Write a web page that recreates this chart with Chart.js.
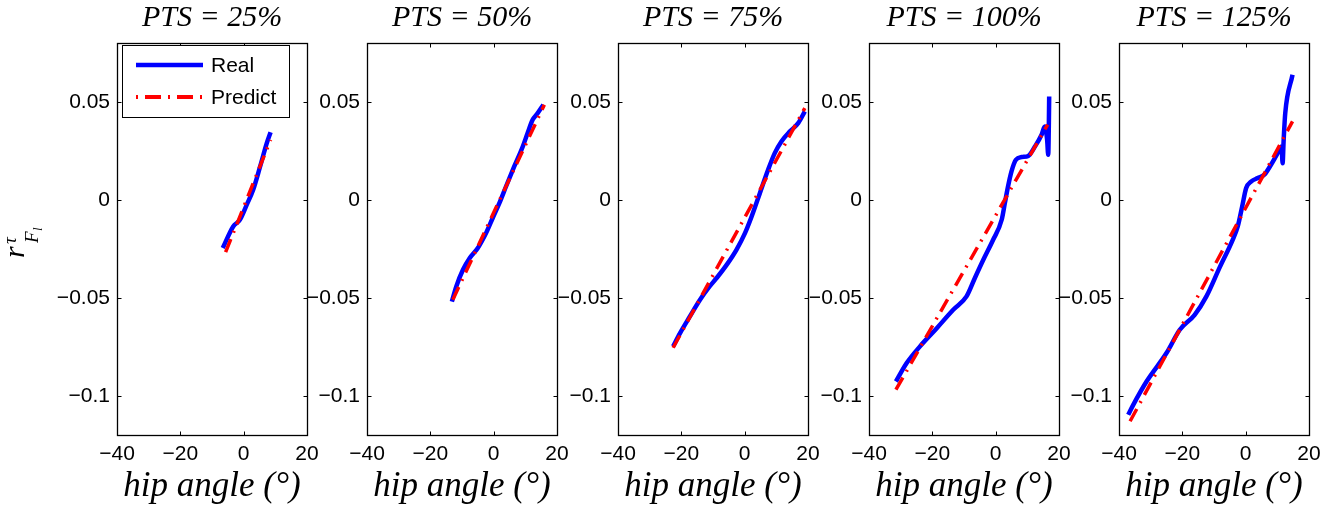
<!DOCTYPE html>
<html>
<head>
<meta charset="utf-8">
<script src="https://cdn.jsdelivr.net/npm/chart.js@4.4.1/dist/chart.umd.min.js"></script>
<style>
  html, body { margin: 0; padding: 0; background: #ffffff; }
  #wrap { position: relative; width: 1333px; height: 508px; overflow: hidden; }
  #wrap canvas { position: absolute; left: 0; top: 0; }
</style>
</head>
<body>
<div id="wrap">
  <canvas id="c0" width="1333" height="508"></canvas>
  <canvas id="c1" width="1333" height="508"></canvas>
  <canvas id="c2" width="1333" height="508"></canvas>
  <canvas id="c3" width="1333" height="508"></canvas>
  <canvas id="c4" width="1333" height="508"></canvas>
</div>
<script>
// Panel titles (PTS level) and shared axis ticks
const ptsLevels = ['25%', '50%', '75%', '100%', '125%'];
const xTicks = [-40, -20, 0, 20];
const yTicks = [-0.1, -0.05, 0, 0.05];

// Measured torque ratio vs hip angle, [hip angle (deg), value]
const real25 = [[-6.6, -0.0246], [-3.3, -0.0136], [-1.2, -0.0102], [0.95, -0.0026], [3.0, 0.0051], [5.2, 0.0170], [7.3, 0.0289], [8.5, 0.0345]];
const real50 = [[-13.2, -0.0519], [-11.8, -0.0442], [-9.7, -0.0357], [-7.6, -0.0298], [-5.0, -0.0246], [-2.4, -0.0170], [-0.3, -0.0093], [1.8, -0.0017], [3.9, 0.0068], [6.5, 0.0170], [9.2, 0.0272], [10.7, 0.0340], [12.3, 0.0408], [13.9, 0.0442], [15.7, 0.0485]];
const real75 = [[-22.6, -0.0748], [-20.4, -0.0680], [-17.3, -0.0595], [-14.1, -0.0510], [-11.5, -0.0451], [-8.9, -0.0400], [-5.7, -0.0332], [-2.6, -0.0255], [0.1, -0.0170], [2.2, -0.0085], [4.8, 0.0034], [7.4, 0.0153], [9.5, 0.0238], [11.6, 0.0298], [14.3, 0.0349], [16.9, 0.0391], [19.0, 0.0451]];
const real100 = [[-31.5, -0.0927], [-28.1, -0.0833], [-23.9, -0.0748], [-18.6, -0.0655], [-13.4, -0.0561], [-9.2, -0.0493], [-6.6, -0.0400], [-3.9, -0.0306], [-0.8, -0.0204], [1.9, -0.0102], [2.9, -0.0017], [3.9, 0.0068], [5.0, 0.0145], [6.4, 0.0204], [8.2, 0.0218], [10.3, 0.0224], [12.4, 0.0272], [14.5, 0.0332], [15.5, 0.0374], [16.25, 0.0306], [16.6, 0.0230], [16.8, 0.0393], [16.9, 0.0527]];
const real125 = [[-37.1, -0.1097], [-35.5, -0.1046], [-31.3, -0.0927], [-25.0, -0.0782], [-20.8, -0.0663], [-16.1, -0.0587], [-12.4, -0.0493], [-8.2, -0.0345], [-4.1, -0.0204], [-2.5, -0.0136], [-1.1, -0.0034], [0.16, 0.0060], [1.7, 0.0093], [3.8, 0.0111], [5.9, 0.0128], [8.0, 0.0179], [10.1, 0.0238], [11.35, 0.0272], [11.66, 0.0187], [12.0, 0.0306], [12.5, 0.0442], [14.8, 0.0638]];

// Model prediction (straight-line fit), [hip angle (deg), value]
const pred25 = [[-5.7, -0.0267], [8.5, 0.0306]];
const pred50 = [[-12.9, -0.0510], [16.0, 0.0485]];
const pred75 = [[-22.6, -0.0755], [19.0, 0.0468]];
const pred100 = [[-31.5, -0.0969], [16.4, 0.0383]];
const pred125 = [[-36.5, -0.1130], [14.8, 0.0400]];

const realSeries = [real25, real50, real75, real100, real125];
const predSeries = [pred25, pred50, pred75, pred100, pred125];

// Plot-area placement of each panel
const panelLeft = [117, 367, 618, 869, 1119];
const panelWidth = 190;
const yAxisWidth = 65;

const BLUE = '#0000ff';
const RED = '#ff0000';
const PRED_DASH = [14, 7, 2, 7];

const fmtTick = v => (v === 0 ? '0' : String(v).replace('-', '\u2212'));
const toPts = arr => arr.map(([x, y]) => ({ x, y }));

// Box around the axes with inward tick marks on all four sides
const framePlugin = {
  id: 'frame',
  afterDraw(chart) {
    const { ctx, chartArea: a, scales } = chart;
    ctx.save();
    ctx.strokeStyle = '#000';
    ctx.lineWidth = 1;
    const L = Math.round(a.left) + 0.5, R = Math.round(a.right) + 0.5;
    const T = Math.round(a.top) + 0.5, B = Math.round(a.bottom) + 0.5;
    ctx.beginPath();
    const tl = 4;
    scales.x.ticks.forEach(t => {
      const px = Math.round(scales.x.getPixelForValue(t.value)) + 0.5;
      ctx.moveTo(px, B); ctx.lineTo(px, B - tl);
      ctx.moveTo(px, T); ctx.lineTo(px, T + tl);
    });
    scales.y.ticks.forEach(t => {
      const py = Math.round(scales.y.getPixelForValue(t.value)) + 0.5;
      ctx.moveTo(L, py); ctx.lineTo(L + tl, py);
      ctx.moveTo(R, py); ctx.lineTo(R - tl, py);
    });
    ctx.stroke();
    ctx.lineWidth = 1.3;
    ctx.strokeRect(L, T, R - L, B - T);
    ctx.restore();
  }
};

// Legend box and the y-axis label, drawn on the first panel only
const firstPanelPlugin = {
  id: 'firstPanel',
  afterDraw(chart) {
    const { ctx } = chart;
    const ds = chart.data.datasets;
    const real = ds.find(d => d.label === 'Real');
    const pred = ds.find(d => d.label === 'Predict');
    ctx.save();
    // legend
    ctx.fillStyle = '#fff';
    ctx.fillRect(122, 45, 167, 72);
    ctx.strokeStyle = '#000';
    ctx.lineWidth = 1;
    ctx.strokeRect(122.5, 45.5, 167, 72);
    ctx.lineWidth = real.borderWidth;
    ctx.strokeStyle = real.borderColor;
    ctx.beginPath(); ctx.moveTo(136, 65); ctx.lineTo(203, 65); ctx.stroke();
    ctx.lineWidth = pred.borderWidth + 0.5;
    ctx.strokeStyle = pred.borderColor;
    ctx.setLineDash([2, 7, 16, 7]);
    ctx.beginPath(); ctx.moveTo(136, 97); ctx.lineTo(203, 97); ctx.stroke();
    ctx.setLineDash([]);
    ctx.fillStyle = '#000';
    ctx.font = '21px "Liberation Sans", Arial, sans-serif';
    ctx.textBaseline = 'middle';
    ctx.textAlign = 'left';
    ctx.fillText(real.label, 211, 66);
    ctx.fillText(pred.label, 211, 98);
    // y-axis label r^tau_{F_l}, rotated
    ctx.translate(24, 258);
    ctx.rotate(-Math.PI / 2);
    ctx.textBaseline = 'alphabetic';
    ctx.font = 'italic 30px "Liberation Serif", serif';
    ctx.fillText('r', 0, 0);
    ctx.font = 'italic 19px "Liberation Serif", serif';
    ctx.fillText('\u03c4', 14, -8);
    ctx.fillText('F', 15, 14);
    ctx.font = 'italic 13px "Liberation Serif", serif';
    ctx.fillText('l', 27, 18);
    ctx.restore();
  }
};

ptsLevels.forEach((lvl, i) => {
  const left = panelLeft[i];
  const plugins = [framePlugin];
  if (i === 0) plugins.push(firstPanelPlugin);
  new Chart(document.getElementById('c' + i), {
    type: 'line',
    data: {
      datasets: [
        {
          label: 'Predict',
          data: toPts(predSeries[i]),
          borderColor: RED,
          borderWidth: 3.5,
          borderDash: PRED_DASH,
          pointRadius: 0,
          fill: false,
          tension: 0
        },
        {
          label: 'Real',
          data: toPts(realSeries[i]),
          borderColor: BLUE,
          borderWidth: 4.5,
          pointRadius: 0,
          fill: false,
          cubicInterpolationMode: 'monotone'
        }
      ]
    },
    options: {
      responsive: false,
      animation: false,
      devicePixelRatio: 1,
      events: [],
      layout: {
        padding: { left: left - yAxisWidth, right: 1333 - left - panelWidth, top: 0, bottom: 0 }
      },
      plugins: {
        legend: { display: false },
        tooltip: { enabled: false },
        title: {
          display: true,
          text: 'PTS = ' + lvl,
          fullSize: false,
          color: '#000',
          font: { family: '"Liberation Serif", serif', style: 'italic', weight: 'normal', size: 30, lineHeight: 1.2 },
          padding: { top: 0, bottom: 7 }
        }
      },
      scales: {
        x: {
          type: 'linear',
          position: 'bottom',
          min: -40,
          max: 20,
          afterBuildTicks: s => { s.ticks = xTicks.map(v => ({ value: v })); },
          afterFit: s => { s.height = 73; s.paddingLeft = 0; s.paddingRight = 0; },
          grid: { display: false, drawTicks: false },
          border: { display: false },
          ticks: {
            color: '#000',
            font: { family: '"Liberation Sans", Arial, sans-serif', size: 21, lineHeight: 1.2 },
            padding: 7,
            maxRotation: 0,
            autoSkip: false,
            callback: v => fmtTick(v)
          },
          title: {
            display: true,
            text: 'hip angle (\u00b0)',
            color: '#000',
            font: { family: '"Liberation Serif", serif', style: 'italic', weight: 'normal', size: 35, lineHeight: 1.2 },
            padding: { top: 0, bottom: 0 }
          }
        },
        y: {
          type: 'linear',
          min: -0.12,
          max: 0.08,
          afterBuildTicks: s => { s.ticks = yTicks.map(v => ({ value: v })); },
          afterFit: s => { s.width = yAxisWidth; s.paddingTop = 0; s.paddingBottom = 0; },
          grid: { display: false, drawTicks: false },
          border: { display: false },
          ticks: {
            color: '#000',
            font: { family: '"Liberation Sans", Arial, sans-serif', size: 21, lineHeight: 1.2 },
            padding: 7,
            autoSkip: false,
            callback: v => fmtTick(v)
          }
        }
      }
    },
    plugins
  });
});
</script>
</body>
</html>
